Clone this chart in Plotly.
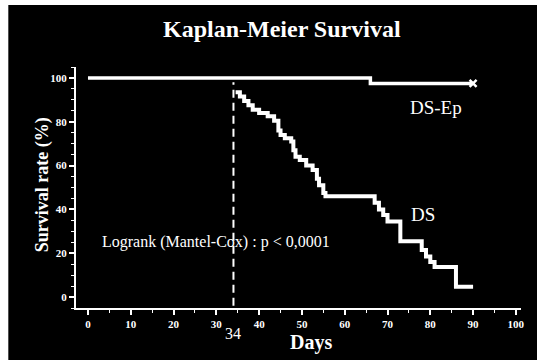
import plotly.graph_objects as go

# Kaplan-Meier step data (days, survival %)
ds_days = [34.5, 35.5, 36.5, 37.5, 38.5, 40, 42, 43.5, 44.5, 45, 46, 47.5, 48,
           48.5, 49.5, 51, 52.5, 53.5, 54, 55, 55.5, 67, 68, 69, 70, 73, 78,
           79, 80, 81, 86, 90]
ds_surv = [93.5, 91.5, 89.5, 87.5, 85.5, 84, 82.5, 80.5, 76, 74, 72.5, 71, 67,
           64, 62.5, 60, 58, 54, 51, 47.5, 46, 43, 40, 37.5, 34.5, 25.5, 21.5,
           18.5, 16, 13.7, 4.7, 4.7]

dsep_days = [0, 66, 90]
dsep_surv = [100, 97.5, 97.5]

x_ticks = [0, 10, 20, 30, 40, 50, 60, 70, 80, 90, 100]
y_ticks = [0, 20, 40, 60, 80, 100]

cutoff_day = 34
serif = "Liberation Serif, Times New Roman, serif"

fig = go.Figure()

fig.add_trace(go.Scatter(
    x=dsep_days, y=dsep_surv, mode="lines", line_shape="hv",
    line=dict(color="white", width=3.5), showlegend=False))
fig.add_trace(go.Scatter(
    x=[dsep_days[-1]], y=[dsep_surv[-1]], mode="markers",
    marker=dict(symbol="x-thin", size=7, line=dict(color="white", width=2.5)),
    showlegend=False))
fig.add_trace(go.Scatter(
    x=ds_days, y=ds_surv, mode="lines", line_shape="hv",
    line=dict(color="white", width=4), showlegend=False))

# vertical cutoff marker
fig.add_shape(type="line", xref="x", yref="y", x0=cutoff_day, x1=cutoff_day,
              y0=-4, y1=98, line=dict(color="white", width=2, dash="8px,5px"))

# black panel with thin white border on top/left
fig.add_shape(type="rect", xref="paper", yref="paper", layer="below",
              x0=-0.1521, x1=1.04, y0=-0.22, y1=1.2573,
              fillcolor="black", line=dict(width=0))

axis_font = dict(family=serif, size=11, color="white", weight="bold")
fig.update_xaxes(
    range=[-2.8, 101.2], tickvals=x_ticks, ticktext=[str(v) for v in x_ticks],
    showline=True, linecolor="white", linewidth=2, showgrid=False, zeroline=False,
    ticks="outside", ticklen=5, tickwidth=1.5, tickcolor="white", tickfont=axis_font,
    minor=dict(dtick=5, ticks="outside", ticklen=3, tickcolor="white", tickwidth=1))
fig.update_yaxes(
    range=[-5, 105], tickvals=y_ticks, ticktext=[str(v) for v in y_ticks],
    showline=True, linecolor="white", linewidth=2, showgrid=False, zeroline=False,
    ticks="outside", ticklen=5, tickwidth=1.5, tickcolor="white", tickfont=axis_font,
    minor=dict(dtick=5, ticks="outside", ticklen=3, tickcolor="white", tickwidth=1))

anns = [
    dict(text="Kaplan-Meier Survival", xref="paper", yref="paper", x=0.463, y=1.158,
         font=dict(family=serif, size=24, color="white", weight="bold")),
    dict(text="Survival rate (%)", xref="paper", yref="paper", x=-0.076, y=0.51,
         textangle=-90, font=dict(family=serif, size=18, color="white", weight="bold")),
    dict(text="Days", xref="paper", yref="paper", x=0.528, y=-0.145,
         font=dict(family=serif, size=20, color="white", weight="bold")),
    dict(text=str(cutoff_day), xref="x", yref="paper", x=cutoff_day, y=-0.104,
         font=dict(family=serif, size=16, color="white")),
    dict(text="DS-Ep", xref="x", yref="y", x=81.4, y=86.3,
         font=dict(family=serif, size=19, color="white")),
    dict(text="DS", xref="x", yref="y", x=78.4, y=37.9,
         font=dict(family=serif, size=19, color="white")),
    dict(text="Logrank (Mantel-Cox) : p < 0,0001", xref="x", yref="y", x=2.8, y=25.1,
         xanchor="left", font=dict(family=serif, size=16, color="white")),
]
for a in anns:
    a.setdefault("xanchor", "center")
    a["yanchor"] = "middle"
    a["showarrow"] = False
    fig.add_annotation(**a)

fig.update_layout(
    width=537, height=360,
    margin=dict(l=76, r=14, t=67, b=52),
    paper_bgcolor="white", plot_bgcolor="black",
)

fig.write_html("out.html")
